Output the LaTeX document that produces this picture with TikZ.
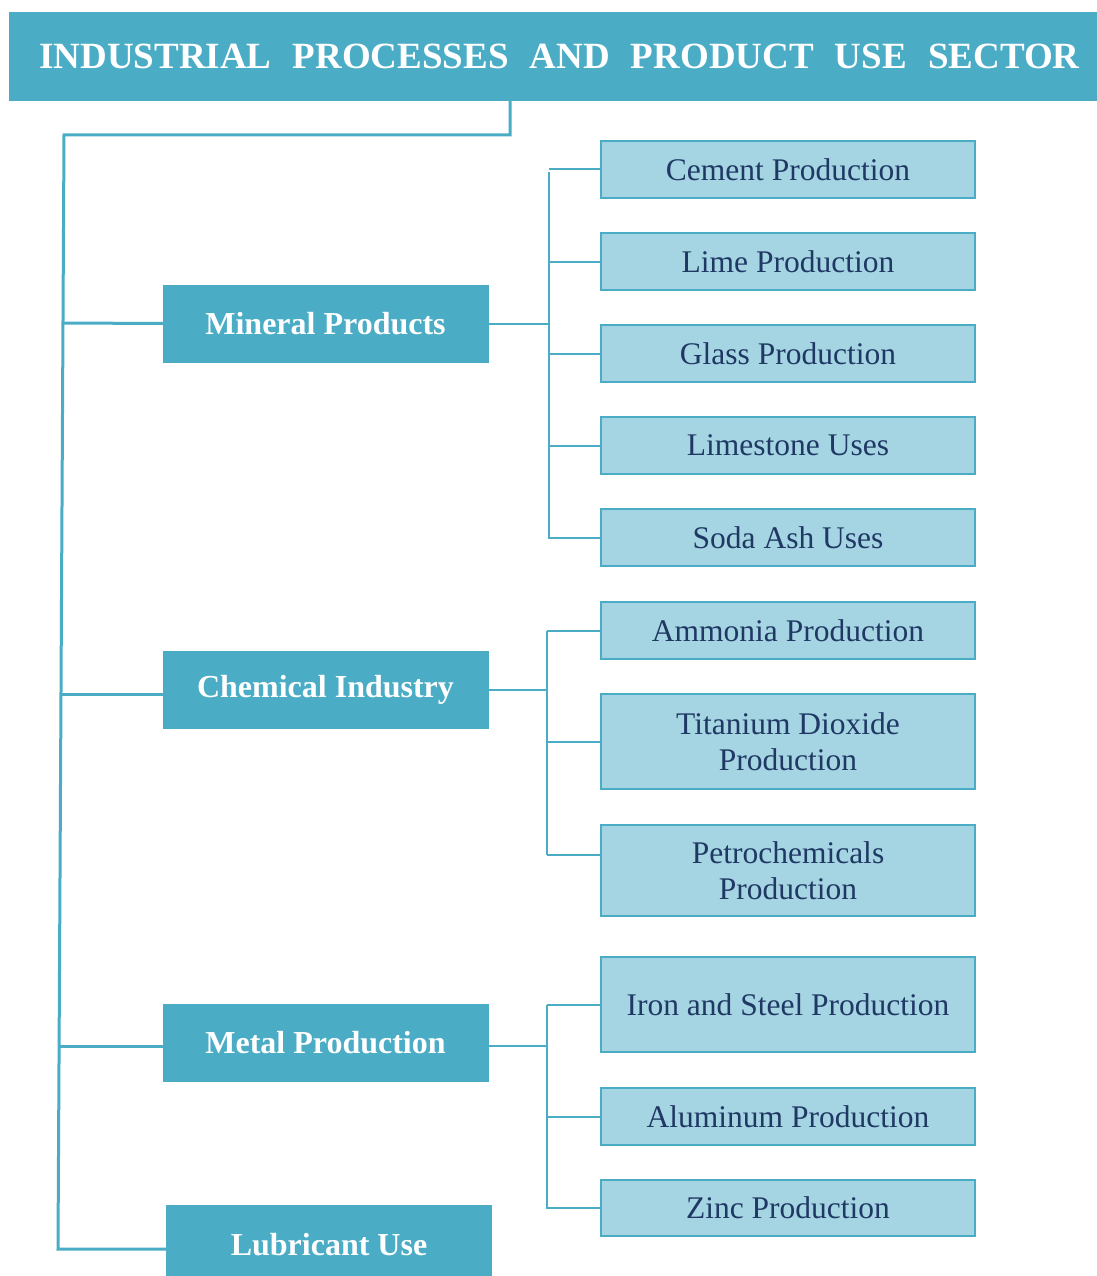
\documentclass[tikz,border=0pt]{standalone}
\usepackage{fontspec}
\setmainfont{Liberation Serif}
\definecolor{dk}{HTML}{4BACC6}
\definecolor{lt}{HTML}{A5D5E2}
\definecolor{tx}{HTML}{1F3864}
\begin{document}
\begin{tikzpicture}[x=1pt,y=-1pt,
  titlebox/.style={fill=dk, draw=dk, text=white, font=\fontsize{37}{44}\selectfont\bfseries, minimum width=1087pt, minimum height=88pt, inner sep=0pt},
  cat/.style={fill=dk, draw=dk, text=white, font=\fontsize{32}{38}\selectfont\bfseries, minimum width=325pt, minimum height=77pt, inner sep=0pt},
  sub/.style={fill=lt, draw=dk, line width=1.2pt, text=tx, font=\fontsize{31.5}{36}\selectfont, minimum width=374pt, inner sep=0pt, align=center},
  trunk/.style={draw=dk, line width=3pt},
  twig/.style={draw=dk, line width=2pt}]
\useasboundingbox (0,0) rectangle (1096,1276);

\node[titlebox] (title) at (552.5,56) {\hspace{14pt}INDUSTRIAL\hspace{0.57em}PROCESSES\hspace{0.57em}AND\hspace{0.57em}PRODUCT\hspace{0.57em}USE\hspace{0.57em}SECTOR};

\node[cat] (mineral) at (325.5,323.5) {Mineral Products};
\node[cat] (chemical) at (325.5,689.5) {Chemical Industry};
\node[cat] (metal) at (325.5,1043) {Metal Production};
\node[cat, minimum height=80pt] (lubricant) at (329,1245) {Lubricant Use};

\node[sub, minimum height=57pt] (cement) at (788,169.5) {Cement Production};
\node[sub, minimum height=57pt] (lime) at (788,261.5) {Lime Production};
\node[sub, minimum height=57pt] (glass) at (788,353.5) {Glass Production};
\node[sub, minimum height=57pt] (limestone) at (788,445.5) {Limestone Uses};
\node[sub, minimum height=57pt] (soda) at (788,537.5) {Soda Ash Uses};
\node[sub, minimum height=57pt] (ammonia) at (788,630.5) {Ammonia Production};
\node[sub, minimum height=95pt] (titanium) at (788,741.5) {Titanium Dioxide\\Production};
\node[sub, minimum height=91pt] (petro) at (788,870.5) {Petrochemicals\\Production};
\node[sub, minimum height=95pt] (iron) at (788,1004.5) {Iron and Steel Production};
\node[sub, minimum height=57pt] (aluminum) at (788,1116.5) {Aluminum Production};
\node[sub, minimum height=56pt] (zinc) at (788,1208) {Zinc Production};

% trunk
\coordinate (tdrop) at (510,135);
\coordinate (ttop) at (64,135);
\coordinate (tbot) at (58,1249);
\coordinate (tmin) at (63,323);
\coordinate (tche) at (61,694);
\coordinate (tmet) at (59.5,1046);
\draw[trunk, line join=miter] (title.south -| tdrop) -- (tdrop) -- (ttop) -- (tbot) -- (lubricant.west |- tbot);
\draw[trunk] (tmin) -- (mineral.west);
\draw[trunk] (tche) -- (chemical.west |- tche);
\draw[trunk] (tmet) -- (metal.west |- tmet);

% mineral bracket
\coordinate (bm) at (549,323.5);
\draw[twig] (mineral.east) -- (bm);
\draw[twig] (549,172) -- (549,539);
\foreach \n in {cement,lime,glass,limestone,soda} \draw[twig] (\n.west) -- (\n.west -| bm);

% chemical bracket
\coordinate (bc) at (547,689.5);
\draw[twig] (chemical.east) -- (bc);
\draw[twig] (547,630.5) -- (547,855);
\draw[twig] (ammonia.west) -- (ammonia.west -| bc);
\draw[twig] (titanium.west) -- (titanium.west -| bc);
\draw[twig] (petro.west |- 0,855) -- (547,855);

% metal bracket
\coordinate (bt) at (547,1046);
\draw[twig] (metal.east |- bt) -- (bt);
\draw[twig] (547,1005) -- (547,1209);
\draw[twig] (iron.west) -- (iron.west -| bt);
\draw[twig] (aluminum.west) -- (aluminum.west -| bt);
\draw[twig] (zinc.west) -- (zinc.west -| bt);
\end{tikzpicture}
\end{document}
